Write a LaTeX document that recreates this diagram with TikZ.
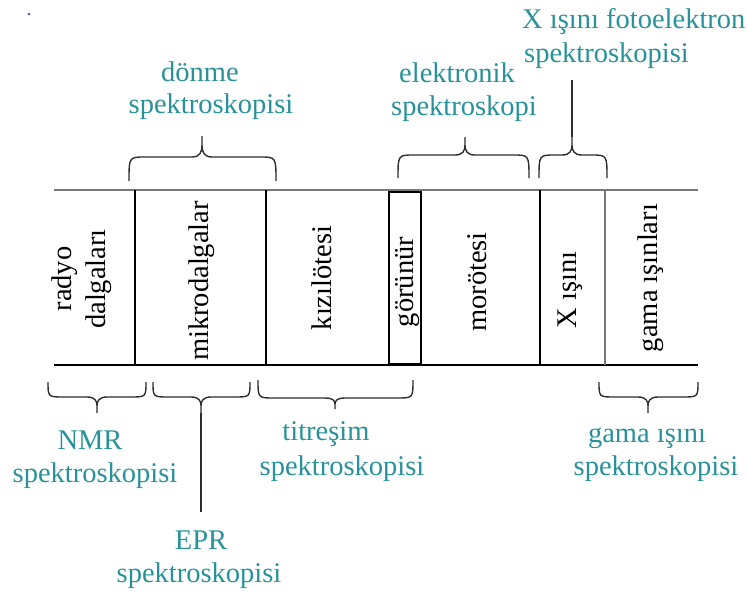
\documentclass[tikz,border=0pt]{standalone}
\usepackage{fontspec}
\setmainfont{Liberation Serif}
\definecolor{labelteal}{RGB}{40,146,152}
\definecolor{bandgray}{RGB}{120,120,120}
\definecolor{bracegray}{RGB}{45,45,45}
\definecolor{dotcolor}{RGB}{90,70,150}

% curly brace: x-left, x-right, x-tip, y-ends, y-flat, y-tip
\newcommand{\curlybrace}[6]{%
  \draw[bracestyle] (#1,#4) .. controls (#1,#5) .. ({#1+16},#5)
    -- ({#3-10},#5) .. controls ({#3-2},#5) and (#3,{#5+0.25*(#6-#5)}) .. (#3,{#5+0.55*(#6-#5)})
    -- (#3,#6)
    (#3,{#5+0.55*(#6-#5)}) .. controls (#3,{#5+0.25*(#6-#5)}) and ({#3+2},#5) .. ({#3+10},#5)
    -- ({#2-16},#5) .. controls (#2,#5) .. (#2,#4);}

\begin{document}
\begin{tikzpicture}[x=1pt,y=-1pt,
  bracestyle/.style={draw=bracegray,line width=1.4pt},
  band/.style={line width=1.5pt,black},
  bandtext/.style={rotate=90,inner sep=0pt,font=\fontsize{28.5}{34}\selectfont,align=center},
  lbl/.style={text=labelteal,inner sep=0pt,anchor=base,font=\fontsize{28.5}{34}\selectfont},
  lblleft/.style={lbl,anchor=base west}]
  \useasboundingbox (0,0) rectangle (747,592);

  % stray dot in the corner
  \fill[dotcolor] (29,14) circle (1.3);

  % spectrum band
  \draw[bandgray,line width=2.6pt] (54,190) -- (698,190);
  \draw[black,line width=1.6pt] (54,365) -- (698,365);
  \draw[band] (135,190) -- (135,365);
  \draw[band] (266,190) -- (266,365);
  \draw[black,line width=1.1pt] (389,192) rectangle (421,364);
  \draw[band] (540,190) -- (540,365);
  \draw[bandgray,line width=2.6pt] (605,190) -- (605,365);

  % region names
  \node[bandtext] (radyo) at (82,279) {radyo\\dalgaları};
  \node[bandtext] (mikro) at (202,281) {mikrodalgalar};
  \node[bandtext] (kizil) at (322,278) {kızılötesi};
  \node[bandtext] (gorunur) at (407.5,282) {görünür};
  \node[bandtext] (mor) at (477,282) {morötesi};
  \node[bandtext] (xray) at (570,290) {X ışını};
  \node[bandtext] (gama) at (651,278) {gama ışınları};

  % braces above the band
  \curlybrace{129}{276}{202}{181}{157}{136}
  \curlybrace{398}{529}{465}{178}{155}{137}
  \curlybrace{539}{607}{572}{178}{155}{137}
  \draw[bracestyle] (572,137) -- (572,80);

  % braces below the band
  \curlybrace{48}{146}{97}{382}{397}{413}
  \curlybrace{153}{250}{201}{382}{397}{413}
  \draw[bracestyle] (201,413) -- (201,512);
  \curlybrace{258}{413}{335}{380}{398}{409}
  \curlybrace{599}{698}{648}{382}{397}{413}

  % technique labels
  \node[lbl] (donme1) at (200,81) {dönme};
  \node[lbl] (donme2) at (211,113) {spektroskopisi};
  \node[lbl] (elek1) at (457,82) {elektronik};
  \node[lbl] (elek2) at (464,115) {spektroskopi};
  \node[lblleft] (xps1) at (522,28) {X ışını fotoelektron};
  \node[lblleft] (xps2) at (524,62) {spektroskopisi};
  \node[lbl] (nmr1) at (90,449) {NMR};
  \node[lbl] (nmr2) at (95,482) {spektroskopisi};
  \node[lbl] (epr1) at (201,549) {EPR};
  \node[lbl] (epr2) at (199,582) {spektroskopisi};
  \node[lbl] (titr1) at (326,440) {titreşim};
  \node[lbl] (titr2) at (342,475) {spektroskopisi};
  \node[lbl] (gamas1) at (647,442) {gama ışını};
  \node[lbl] (gamas2) at (656,475) {spektroskopisi};
\end{tikzpicture}
\end{document}
